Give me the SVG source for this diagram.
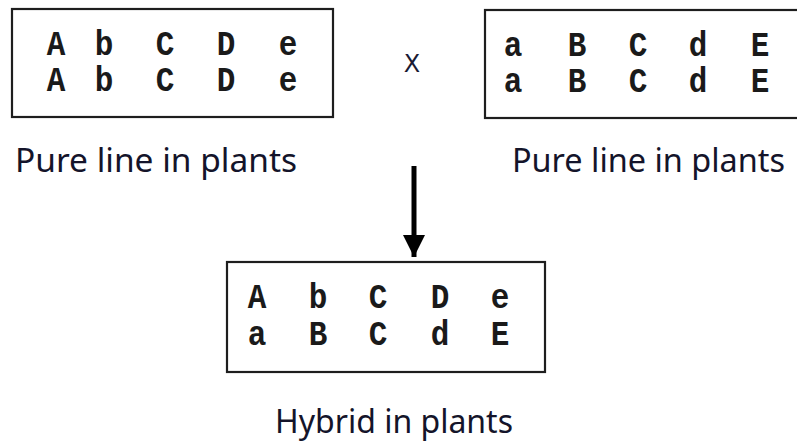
<svg xmlns="http://www.w3.org/2000/svg" width="797" height="441" viewBox="0 0 797 441">
  <style>
    .box { fill: #ffffff; stroke: #1e1e1e; stroke-width: 2.2; }
    .gene { font-family: "Courier New", "Liberation Mono", monospace; font-weight: bold; font-size: 31px; fill: #1a1a1a; text-anchor: middle; }
    .label { font-family: "Noto Sans", "DejaVu Sans", sans-serif; font-size: 32px; fill: #14142a; }
    .cross { font-family: "DejaVu Sans", "Liberation Sans", sans-serif; font-size: 24px; fill: #1a1a33; text-anchor: middle; }
  </style>
  <defs>
    <marker id="head" markerUnits="userSpaceOnUse" markerWidth="24" markerHeight="24" refX="22" refY="11" orient="auto">
      <path d="M0,0 L22,11 L0,22 Z" fill="#000"/>
    </marker>
  </defs>
  <rect width="797" height="441" fill="#ffffff"/>

  <!-- first parent -->
  <g id="parent1">
    <rect class="box" x="12" y="9" width="321" height="108"/>
    <text class="gene" transform="translate(0,55) scale(1,1.12)"><tspan x="56">A</tspan><tspan x="104">b</tspan><tspan x="165">C</tspan><tspan x="226">D</tspan><tspan x="288">e</tspan></text>
    <text class="gene" transform="translate(0,91) scale(1,1.12)"><tspan x="56">A</tspan><tspan x="104">b</tspan><tspan x="165">C</tspan><tspan x="226">D</tspan><tspan x="288">e</tspan></text>
    <text class="label" x="15" y="172" textLength="282" lengthAdjust="spacingAndGlyphs">Pure line in plants</text>
  </g>

  <!-- cross sign -->
  <g id="cross">
    <text class="cross" x="412" y="72">X</text>
  </g>

  <!-- second parent -->
  <g id="parent2">
    <rect class="box" x="485" y="10" width="320" height="108"/>
    <text class="gene" transform="translate(0,56) scale(1,1.12)"><tspan x="513">a</tspan><tspan x="577">B</tspan><tspan x="638">C</tspan><tspan x="698">d</tspan><tspan x="760">E</tspan></text>
    <text class="gene" transform="translate(0,92) scale(1,1.12)"><tspan x="513">a</tspan><tspan x="577">B</tspan><tspan x="638">C</tspan><tspan x="698">d</tspan><tspan x="760">E</tspan></text>
    <text class="label" x="512" y="172" textLength="273" lengthAdjust="spacingAndGlyphs">Pure line in plants</text>
  </g>

  <!-- connectors -->
  <g id="connectors">
    <line x1="414" y1="166" x2="414" y2="257" stroke="#000" stroke-width="5" marker-end="url(#head)"/>
  </g>

  <!-- offspring -->
  <g id="hybrid">
    <rect class="box" x="227" y="262" width="318" height="110"/>
    <text class="gene" transform="translate(0,308) scale(1,1.12)"><tspan x="257">A</tspan><tspan x="318">b</tspan><tspan x="378">C</tspan><tspan x="440">D</tspan><tspan x="500">e</tspan></text>
    <text class="gene" transform="translate(0,345) scale(1,1.12)"><tspan x="257">a</tspan><tspan x="318">B</tspan><tspan x="378">C</tspan><tspan x="440">d</tspan><tspan x="500">E</tspan></text>
    <text class="label" x="275" y="433" textLength="238" lengthAdjust="spacingAndGlyphs">Hybrid in plants</text>
  </g>
</svg>
